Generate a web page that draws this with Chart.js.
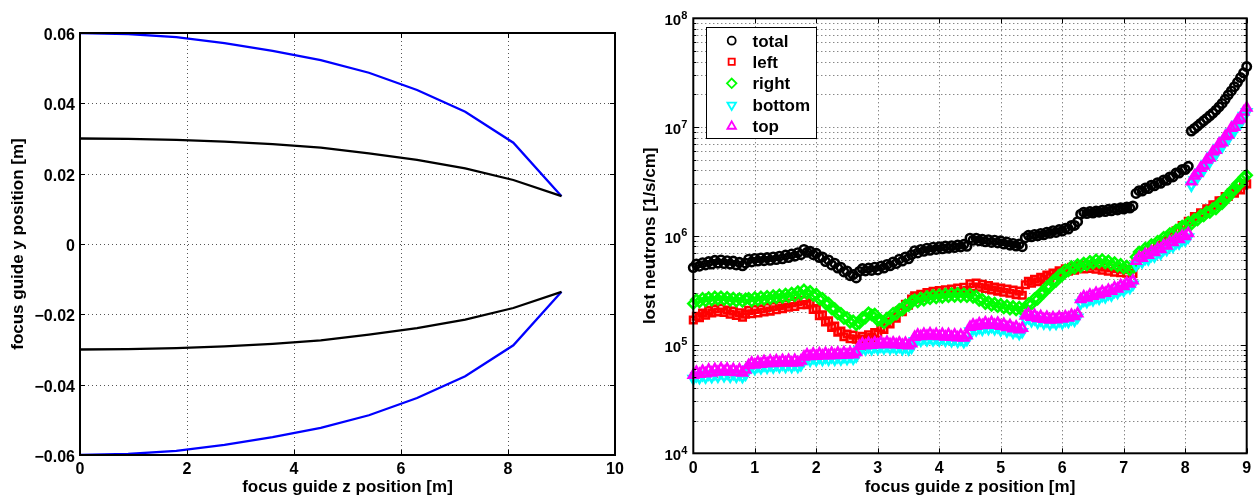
<!DOCTYPE html>
<html>
<head>
<meta charset="utf-8">
<title>Focus guide geometry and neutron losses</title>
<script src="https://cdn.jsdelivr.net/npm/chart.js@4.4.1/dist/chart.umd.min.js"></script>
<style>
  html, body { margin: 0; padding: 0; background: #fff; }
  #wrap { position: relative; width: 1260px; height: 499px; overflow: hidden; }
  #wrap canvas { position: absolute; top: 0; }
  #cGeom { left: 0; }
  #cLoss { left: 630px; }
</style>
</head>
<body>
<div id="wrap">
  <canvas id="cGeom" width="630" height="499" style="width:630px;height:499px"></canvas>
  <canvas id="cLoss" width="630" height="499" style="width:630px;height:499px"></canvas>
</div>
<script>
// ---------- guide wall profile (left panel) ----------
const guideZ     = [0, 0.9, 1.8, 2.7, 3.6, 4.5, 5.4, 6.3, 7.2, 8.1, 9.0];
const outerUpper = [0.0600, 0.0597, 0.0588, 0.0571, 0.0549, 0.0523, 0.0487, 0.0438, 0.0376, 0.0288, 0.0136];
const innerUpper = [0.0300, 0.0299, 0.0296, 0.0291, 0.0284, 0.0274, 0.0258, 0.0239, 0.0215, 0.0182, 0.0136];
const innerLower = [-0.0300, -0.0299, -0.0296, -0.0291, -0.0284, -0.0274, -0.0258, -0.0239, -0.0215, -0.0182, -0.0136];
const outerLower = [-0.0600, -0.0597, -0.0588, -0.0571, -0.0549, -0.0523, -0.0487, -0.0438, -0.0376, -0.0288, -0.0136];
const geomZTicks = [0, 2, 4, 6, 8, 10];
const geomYTicks = [-0.06, -0.04, -0.02, 0, 0.02, 0.04, 0.06];

// ---------- lost neutrons per wall (right panel), sampled every 5 cm, one row per 0.9 m section ----------
const zStep = 0.05;
const lossTotal = [
  5.1e5,5.5e5,5.25e5,5.65e5,5.4e5,5.8e5,5.5e5,5.95e5,5.6e5,6.0e5,5.55e5,5.9e5,5.5e5,5.85e5,5.4e5,5.7e5,5.3e5,5.6e5,
  6.1e5,5.75e5,6.2e5,5.85e5,6.25e5,5.9e5,6.3e5,5.95e5,6.4e5,6.05e5,6.5e5,6.15e5,6.65e5,6.3e5,6.8e5,6.5e5,7.0e5,6.7e5,
  7.5e5,7.05e5,7.2e5,6.7e5,6.9e5,6.3e5,6.4e5,5.8e5,6.0e5,5.4e5,5.6e5,5.05e5,5.15e5,4.65e5,4.75e5,4.3e5,4.4e5,4.1e5,
  4.7e5,5.0e5,4.75e5,5.05e5,4.8e5,5.15e5,4.85e5,5.25e5,5.05e5,5.45e5,5.3e5,5.75e5,5.55e5,6.1e5,5.85e5,6.4e5,6.15e5,6.7e5,
  7.3e5,6.95e5,7.5e5,7.2e5,7.7e5,7.35e5,7.85e5,7.5e5,7.95e5,7.6e5,8.05e5,7.7e5,8.1e5,7.8e5,8.25e5,7.9e5,8.35e5,8.0e5,
  9.5e5,9.1e5,9.5e5,9.0e5,9.3e5,8.8e5,9.2e5,8.7e5,9.1e5,8.6e5,9.0e5,8.4e5,8.75e5,8.2e5,8.5e5,8.05e5,8.4e5,7.95e5,
  9.6e5,1.01e6,9.8e5,1.03e6,1.0e6,1.05e6,1.02e6,1.08e6,1.055e6,1.115e6,1.075e6,1.14e6,1.105e6,1.175e6,1.155e6,1.245e6,1.245e6,1.35e6,
  1.58e6,1.65e6,1.6e6,1.67e6,1.62e6,1.69e6,1.65e6,1.72e6,1.67e6,1.75e6,1.7e6,1.78e6,1.73e6,1.81e6,1.76e6,1.84e6,1.8e6,1.88e6,
  2.45e6,2.6e6,2.58e6,2.75e6,2.72e6,2.92e6,2.88e6,3.08e6,3.04e6,3.26e6,3.24e6,3.48e6,3.48e6,3.77e6,3.77e6,4.08e6,4.07e6,4.35e6,
  9.2e6,9.7e6,1.02e7,1.08e7,1.14e7,1.2e7,1.27e7,1.34e7,1.43e7,1.53e7,1.65e7,1.8e7,1.98e7,2.15e7,2.35e7,2.58e7,2.85e7,3.15e7,3.6e7
];
const lossLeft = [
  1.68e5,1.82e5,1.77e5,1.95e5,1.86e5,2.06e5,1.95e5,2.13e5,1.99e5,2.16e5,1.97e5,2.08e5,1.9e5,2.03e5,1.85e5,1.96e5,1.78e5,1.9e5,
  2.06e5,1.92e5,2.1e5,1.95e5,2.13e5,1.99e5,2.19e5,2.03e5,2.24e5,2.09e5,2.29e5,2.14e5,2.35e5,2.2e5,2.41e5,2.24e5,2.48e5,2.32e5,
  2.55e5,2.33e5,2.42e5,2.1e5,2.14e5,1.84e5,1.88e5,1.61e5,1.65e5,1.44e5,1.48e5,1.3e5,1.33e5,1.18e5,1.25e5,1.13e5,1.22e5,1.12e5,
  1.1e5,1.19e5,1.12e5,1.23e5,1.16e5,1.29e5,1.25e5,1.43e5,1.38e5,1.6e5,1.55e5,1.8e5,1.75e5,2.04e5,2.0e5,2.35e5,2.3e5,2.62e5,
  2.8e5,2.62e5,2.9e5,2.72e5,3.0e5,2.83e5,3.08e5,2.88e5,3.13e5,2.93e5,3.19e5,2.98e5,3.23e5,3.02e5,3.3e5,3.06e5,3.36e5,3.14e5,
  3.62e5,3.38e5,3.68e5,3.36e5,3.58e5,3.28e5,3.48e5,3.18e5,3.38e5,3.1e5,3.3e5,3.03e5,3.24e5,2.96e5,3.17e5,2.88e5,3.1e5,2.84e5,
  3.55e5,3.82e5,3.66e5,3.98e5,3.78e5,4.15e5,3.96e5,4.35e5,4.14e5,4.55e5,4.33e5,4.76e5,4.52e5,4.96e5,4.72e5,5.12e5,4.82e5,5.18e5,
  5.3e5,4.95e5,5.38e5,5.02e5,5.33e5,4.92e5,5.25e5,4.82e5,5.15e5,4.72e5,5.05e5,4.62e5,4.97e5,4.58e5,4.92e5,4.53e5,4.88e5,4.5e5,
  5.8e5,6.4e5,6.2e5,6.8e5,6.7e5,7.4e5,7.3e5,8.1e5,8.0e5,8.9e5,8.9e5,9.9e5,1.0e6,1.11e6,1.12e6,1.24e6,1.23e6,1.36e6,
  1.36e6,1.5e6,1.48e6,1.63e6,1.6e6,1.77e6,1.75e6,1.93e6,1.91e6,2.1e6,2.1e6,2.3e6,2.3e6,2.5e6,2.46e6,2.67e6,2.64e6,2.92e6,3.0e6
];
const lossRight = [
  2.38e5,2.58e5,2.47e5,2.66e5,2.52e5,2.7e5,2.56e5,2.74e5,2.6e5,2.75e5,2.58e5,2.72e5,2.54e5,2.68e5,2.5e5,2.65e5,2.49e5,2.63e5,
  2.66e5,2.51e5,2.7e5,2.56e5,2.74e5,2.6e5,2.78e5,2.64e5,2.82e5,2.68e5,2.86e5,2.72e5,2.91e5,2.75e5,2.98e5,2.82e5,3.07e5,2.9e5,
  3.18e5,2.96e5,3.09e5,2.83e5,2.91e5,2.62e5,2.66e5,2.38e5,2.4e5,2.13e5,2.14e5,1.91e5,1.94e5,1.74e5,1.77e5,1.6e5,1.65e5,1.52e5,
  1.57e5,1.77e5,1.76e5,1.96e5,1.87e5,1.91e5,1.67e5,1.68e5,1.58e5,1.75e5,1.74e5,1.94e5,1.9e5,2.11e5,2.08e5,2.32e5,2.28e5,2.5e5,
  2.58e5,2.47e5,2.68e5,2.56e5,2.76e5,2.64e5,2.84e5,2.68e5,2.87e5,2.71e5,2.91e5,2.75e5,2.94e5,2.77e5,2.95e5,2.76e5,2.93e5,2.75e5,
  2.9e5,2.72e5,2.8e5,2.54e5,2.6e5,2.38e5,2.47e5,2.29e5,2.4e5,2.23e5,2.34e5,2.17e5,2.28e5,2.12e5,2.24e5,2.08e5,2.21e5,2.06e5,
  2.14e5,2.38e5,2.35e5,2.64e5,2.62e5,2.98e5,2.99e5,3.41e5,3.4e5,3.85e5,3.83e5,4.35e5,4.32e5,4.86e5,4.76e5,5.22e5,5.05e5,5.45e5,
  5.2e5,5.62e5,5.4e5,5.82e5,5.58e5,6.0e5,5.68e5,6.03e5,5.63e5,5.88e5,5.44e5,5.67e5,5.25e5,5.46e5,5.05e5,5.26e5,4.86e5,5.05e5,
  6.4e5,7.1e5,7.0e5,7.7e5,7.6e5,8.3e5,8.2e5,8.9e5,8.8e5,9.7e5,9.5e5,1.05e6,1.03e6,1.13e6,1.12e6,1.23e6,1.22e6,1.33e6,
  1.28e6,1.42e6,1.4e6,1.54e6,1.52e6,1.66e6,1.64e6,1.78e6,1.77e6,1.97e6,1.98e6,2.24e6,2.27e6,2.59e6,2.64e6,3.0e6,3.03e6,3.45e6,3.6e6
];
const lossBottom = [
  4.85e4,5.15e4,4.95e4,5.25e4,5.0e4,5.35e4,5.05e4,5.4e4,5.1e4,5.5e4,5.15e4,5.45e4,5.1e4,5.4e4,5.1e4,5.35e4,5.05e4,5.3e4,
  5.95e4,6.25e4,6.0e4,6.35e4,6.1e4,6.45e4,6.15e4,6.5e4,6.2e4,6.55e4,6.25e4,6.6e4,6.25e4,6.6e4,6.25e4,6.6e4,6.25e4,6.5e4,
  7.1e4,7.45e4,7.15e4,7.55e4,7.2e4,7.6e4,7.25e4,7.65e4,7.3e4,7.7e4,7.3e4,7.7e4,7.35e4,7.75e4,7.4e4,7.8e4,7.45e4,7.8e4,
  8.95e4,9.35e4,9.05e4,9.5e4,9.1e4,9.6e4,9.2e4,9.65e4,9.25e4,9.7e4,9.25e4,9.6e4,9.2e4,9.6e4,9.1e4,9.5e4,9.05e4,9.4e4,
  1.08e5,1.13e5,1.09e5,1.15e5,1.1e5,1.16e5,1.1e5,1.15e5,1.1e5,1.15e5,1.09e5,1.14e5,1.08e5,1.13e5,1.07e5,1.12e5,1.06e5,1.11e5,
  1.33e5,1.4e5,1.36e5,1.43e5,1.38e5,1.46e5,1.4e5,1.47e5,1.39e5,1.45e5,1.36e5,1.42e5,1.33e5,1.38e5,1.29e5,1.34e5,1.26e5,1.31e5,
  1.69e5,1.77e5,1.65e5,1.72e5,1.6e5,1.68e5,1.57e5,1.65e5,1.55e5,1.63e5,1.56e5,1.65e5,1.58e5,1.67e5,1.62e5,1.72e5,1.67e5,1.78e5,
  2.4e5,2.54e5,2.48e5,2.63e5,2.57e5,2.73e5,2.65e5,2.82e5,2.74e5,2.92e5,2.85e5,3.07e5,3.0e5,3.22e5,3.15e5,3.39e5,3.33e5,3.57e5,
  5.4e5,5.85e5,5.75e5,6.2e5,6.1e5,6.6e5,6.5e5,7.0e5,6.9e5,7.5e5,7.45e5,8.05e5,8.0e5,8.6e5,8.55e5,9.15e5,9.1e5,9.7e5,
  2.9e6,3.25e6,3.45e6,3.85e6,4.05e6,4.6e6,4.8e6,5.45e6,5.65e6,6.45e6,6.6e6,7.55e6,7.8e6,9.0e6,9.2e6,1.06e7,1.09e7,1.27e7,1.38e7
];
const lossTop = [
  5.25e4,5.6e4,5.35e4,5.72e4,5.42e4,5.85e4,5.5e4,5.93e4,5.6e4,6.02e4,5.65e4,5.98e4,5.6e4,5.92e4,5.55e4,5.88e4,5.5e4,5.85e4,
  6.45e4,6.78e4,6.52e4,6.9e4,6.62e4,7.0e4,6.7e4,7.08e4,6.72e4,7.12e4,6.78e4,7.18e4,6.82e4,7.2e4,6.8e4,7.2e4,6.82e4,7.1e4,
  7.7e4,8.1e4,7.8e4,8.2e4,7.85e4,8.25e4,7.9e4,8.3e4,7.92e4,8.35e4,7.95e4,8.4e4,8.0e4,8.42e4,8.05e4,8.45e4,8.1e4,8.5e4,
  9.7e4,1.015e5,9.8e4,1.03e5,9.9e4,1.04e5,1.0e5,1.05e5,1.005e5,1.055e5,1.005e5,1.04e5,1.0e5,1.04e5,9.9e4,1.03e5,9.8e4,1.02e5,
  1.17e5,1.23e5,1.19e5,1.25e5,1.2e5,1.26e5,1.2e5,1.25e5,1.19e5,1.25e5,1.18e5,1.24e5,1.17e5,1.23e5,1.16e5,1.22e5,1.15e5,1.21e5,
  1.45e5,1.52e5,1.48e5,1.56e5,1.5e5,1.59e5,1.52e5,1.6e5,1.51e5,1.58e5,1.48e5,1.54e5,1.44e5,1.5e5,1.4e5,1.46e5,1.37e5,1.42e5,
  1.84e5,1.92e5,1.79e5,1.87e5,1.74e5,1.82e5,1.71e5,1.79e5,1.69e5,1.77e5,1.7e5,1.79e5,1.72e5,1.81e5,1.76e5,1.87e5,1.82e5,1.93e5,
  2.6e5,2.76e5,2.69e5,2.86e5,2.79e5,2.97e5,2.88e5,3.07e5,2.98e5,3.17e5,3.1e5,3.34e5,3.26e5,3.5e5,3.42e5,3.68e5,3.62e5,3.88e5,
  5.85e5,6.35e5,6.25e5,6.75e5,6.65e5,7.15e5,7.05e5,7.6e5,7.5e5,8.15e5,8.1e5,8.75e5,8.7e5,9.35e5,9.3e5,9.95e5,9.9e5,1.055e6,
  3.15e6,3.55e6,3.75e6,4.2e6,4.4e6,5.0e6,5.2e6,5.95e6,6.15e6,7.0e6,7.2e6,8.2e6,8.5e6,9.8e6,1.0e7,1.15e7,1.19e7,1.38e7,1.5e7
];
const zPos = lossTotal.map((_, i) => +(i * zStep).toFixed(2));
const lossZTicks = [0, 1, 2, 3, 4, 5, 6, 7, 8, 9];
const lossDecades = [4, 5, 6, 7, 8];
const legendNames = ['total', 'left', 'right', 'bottom', 'top'];

// ---------- shared styling ----------
const FAMILY = '"Liberation Sans", Arial, Helvetica, sans-serif';
const bold = px => 'bold ' + px + 'px ' + FAMILY;
const GRID_COLOR = '#555555';

function hLine(ctx, x1, x2, y) { ctx.beginPath(); ctx.moveTo(x1, y); ctx.lineTo(x2, y); ctx.stroke(); }
function vLine(ctx, x, y1, y2) { ctx.beginPath(); ctx.moveTo(x, y1); ctx.lineTo(x, y2); ctx.stroke(); }
const snap = v => Math.round(v) + 0.5;

function drawFrame(ctx, a) {
  ctx.save();
  ctx.setLineDash([]);
  ctx.strokeStyle = '#000';
  ctx.lineWidth = 2;
  ctx.strokeRect(a.left, a.top, a.right - a.left, a.bottom - a.top);
  ctx.restore();
}

function rotatedTitle(ctx, text, x, y) {
  ctx.save();
  ctx.translate(x, y);
  ctx.rotate(-Math.PI / 2);
  ctx.textAlign = 'center';
  ctx.textBaseline = 'alphabetic';
  ctx.fillText(text, 0, 0);
  ctx.restore();
}

// ---------- left panel decorations ----------
const geomDecor = {
  id: 'geomDecor',
  beforeDatasetsDraw(chart) {
    const { ctx, chartArea: a, scales: { x, y } } = chart;
    ctx.save();
    ctx.strokeStyle = GRID_COLOR;
    ctx.lineWidth = 1;
    ctx.setLineDash([1, 3]);
    geomZTicks.forEach(v => {
      if (v <= x.min || v >= x.max) return;
      vLine(ctx, snap(x.getPixelForValue(v)), a.top, a.bottom);
    });
    geomYTicks.forEach(v => {
      if (v <= y.min || v >= y.max) return;
      hLine(ctx, a.left, a.right, snap(y.getPixelForValue(v)));
    });
    ctx.restore();
  },
  afterDatasetsDraw(chart) {
    const { ctx, chartArea: a, scales: { x, y } } = chart;
    drawFrame(ctx, a);
    ctx.save();
    ctx.strokeStyle = '#000';
    ctx.lineWidth = 1;
    const tl = 5;
    geomZTicks.forEach(v => {
      const px = snap(x.getPixelForValue(v));
      vLine(ctx, px, a.bottom, a.bottom - tl);
      vLine(ctx, px, a.top, a.top + tl);
    });
    geomYTicks.forEach(v => {
      const py = snap(y.getPixelForValue(v));
      hLine(ctx, a.left, a.left + tl, py);
      hLine(ctx, a.right, a.right - tl, py);
    });
    ctx.fillStyle = '#000';
    ctx.font = bold(16);
    ctx.textBaseline = 'alphabetic';
    ctx.textAlign = 'center';
    geomZTicks.forEach(v => ctx.fillText(String(v), x.getPixelForValue(v), a.bottom + 19));
    ctx.textAlign = 'right';
    geomYTicks.forEach(v => {
      const txt = v === 0 ? '0' : (v < 0 ? '\u2212' : '') + Math.abs(v).toFixed(2);
      ctx.fillText(txt, a.left - 5, y.getPixelForValue(v) + 7);
    });
    ctx.font = bold(17);
    ctx.textAlign = 'center';
    ctx.fillText('focus guide z position [m]', (a.left + a.right) / 2, 492);
    rotatedTitle(ctx, 'focus guide y position [m]', 23, (a.top + a.bottom) / 2);
    ctx.restore();
  }
};

// ---------- right panel decorations ----------
const MARKER_LW = 2.6;
const LEGEND_LW = 1.8;
const markerStyles = [
  { pointStyle: 'circle',   radius: 4.2, rotation: 0,   color: '#000000' },
  { pointStyle: 'rect',     radius: 4.6, rotation: 0,   color: '#ff0000' },
  { pointStyle: 'rectRot',  radius: 5.0, rotation: 0,   color: '#00ff00' },
  { pointStyle: 'triangle', radius: 5.2, rotation: 180, color: '#00ffff' },
  { pointStyle: 'triangle', radius: 5.2, rotation: 0,   color: '#ff00ff' }
];

const lossDecor = {
  id: 'lossDecor',
  beforeDatasetsDraw(chart) {
    const { ctx, chartArea: a, scales: { x, y } } = chart;
    ctx.save();
    ctx.strokeStyle = GRID_COLOR;
    ctx.lineWidth = 1;
    ctx.setLineDash([1, 3]);
    lossZTicks.forEach(v => {
      if (v <= x.min || v >= x.max) return;
      vLine(ctx, snap(x.getPixelForValue(v)), a.top, a.bottom);
    });
    lossDecades.forEach(e => {
      for (let m = 1; m <= 9; m++) {
        const v = m * Math.pow(10, e);
        if (v <= y.min * 1.0001 || v >= y.max * 0.9999) continue;
        hLine(ctx, a.left, a.right, snap(y.getPixelForValue(v)));
      }
    });
    ctx.restore();
  },
  afterDatasetsDraw(chart) {
    const { ctx, chartArea: a, scales: { x, y } } = chart;
    drawFrame(ctx, a);
    ctx.save();
    ctx.strokeStyle = '#000';
    ctx.lineWidth = 1;
    lossZTicks.forEach(v => {
      const px = snap(x.getPixelForValue(v));
      vLine(ctx, px, a.bottom, a.bottom - 5);
      vLine(ctx, px, a.top, a.top + 5);
    });
    lossDecades.forEach(e => {
      for (let m = 1; m <= 9; m++) {
        const v = m * Math.pow(10, e);
        if (v > y.max * 1.0001) continue;
        const len = m === 1 ? 6 : 3;
        const py = snap(y.getPixelForValue(v));
        hLine(ctx, a.left, a.left + len, py);
        hLine(ctx, a.right, a.right - len, py);
      }
    });
    ctx.fillStyle = '#000';
    ctx.textBaseline = 'alphabetic';
    ctx.font = bold(16);
    ctx.textAlign = 'center';
    lossZTicks.forEach(v => ctx.fillText(String(v), x.getPixelForValue(v), a.bottom + 20));
    // decade labels: "10" with a raised exponent
    lossDecades.forEach(e => {
      const py = y.getPixelForValue(Math.pow(10, e));
      const right = a.left - 6;
      ctx.font = bold(11);
      ctx.textAlign = 'right';
      const expW = ctx.measureText(String(e)).width;
      ctx.fillText(String(e), right, py + 0.5);
      ctx.font = bold(15);
      ctx.fillText('10', right - expW, py + 7);
    });
    ctx.font = bold(17);
    ctx.textAlign = 'center';
    ctx.fillText('focus guide z position [m]', (a.left + a.right) / 2, 492);
    rotatedTitle(ctx, 'lost neutrons [1/s/cm]', 25, (a.top + a.bottom) / 2);

    // legend box
    const bx = 76, by = 27, bw = 110, bh = 111;
    ctx.fillStyle = '#fff';
    ctx.fillRect(bx, by, bw, bh);
    ctx.strokeStyle = '#000';
    ctx.lineWidth = 1;
    ctx.strokeRect(bx + 0.5, by + 0.5, bw, bh);
    const rows = [40.7, 61.7, 83.3, 105, 126.3];
    legendNames.forEach((name, i) => {
      const ms = markerStyles[i];
      ctx.save();
      ctx.strokeStyle = ms.color;
      ctx.fillStyle = 'rgba(0,0,0,0)';
      ctx.lineWidth = LEGEND_LW;
      Chart.helpers.drawPoint(ctx, { pointStyle: ms.pointStyle, radius: ms.radius * 0.95, rotation: ms.rotation, borderWidth: LEGEND_LW }, 101.7, rows[i]);
      ctx.restore();
      ctx.fillStyle = '#000';
      ctx.font = bold(17);
      ctx.textAlign = 'left';
      ctx.fillText(name, 122.5, rows[i] + 6);
    });
    ctx.restore();
  }
};

// ---------- charts ----------
const line = (ys, color) => ({
  data: guideZ.map((z, i) => ({ x: z, y: ys[i] })),
  showLine: true, borderColor: color, borderWidth: 2.3,
  pointRadius: 0, fill: false, tension: 0
});

new Chart(document.getElementById('cGeom'), {
  type: 'scatter',
  data: {
    datasets: [
      line(innerUpper, '#000000'),
      line(innerLower, '#000000'),
      line(outerUpper, '#0000ff'),
      line(outerLower, '#0000ff')
    ]
  },
  options: {
    responsive: false, animation: false, devicePixelRatio: 1, events: [],
    layout: { padding: { left: 80, right: 15, top: 33, bottom: 44 } },
    scales: {
      x: { type: 'linear', min: 0, max: 10, display: false },
      y: { type: 'linear', min: -0.06, max: 0.06, display: false }
    },
    plugins: { legend: { display: false }, tooltip: { enabled: false } }
  },
  plugins: [geomDecor]
});

const lossSeries = [lossTotal, lossLeft, lossRight, lossBottom, lossTop];
// datasets listed so that "top" is painted last (Chart.js paints index 0 last)
const lossDatasets = lossSeries.map((vals, i) => {
  const ms = markerStyles[i];
  return {
    label: legendNames[i],
    data: zPos.map((z, k) => ({ x: z, y: vals[k] })),
    showLine: false,
    pointStyle: ms.pointStyle,
    pointRadius: ms.radius,
    pointRotation: ms.rotation,
    pointBorderColor: ms.color,
    pointBackgroundColor: 'rgba(0,0,0,0)',
    pointBorderWidth: MARKER_LW,
    clip: false
  };
}).reverse();

new Chart(document.getElementById('cLoss'), {
  type: 'scatter',
  data: { datasets: lossDatasets },
  options: {
    responsive: false, animation: false, devicePixelRatio: 1, events: [],
    layout: { padding: { left: 63.3, right: 13.3, top: 18.3, bottom: 45.7 } },
    scales: {
      x: { type: 'linear', min: 0, max: 9, display: false },
      y: { type: 'logarithmic', min: 1e4, max: 1e8, display: false }
    },
    plugins: { legend: { display: false }, tooltip: { enabled: false } }
  },
  plugins: [lossDecor]
});
</script>
</body>
</html>
